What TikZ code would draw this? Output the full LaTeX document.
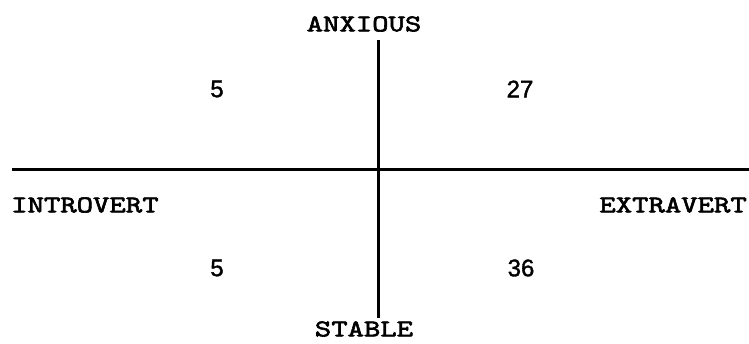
\documentclass[tikz,border=0pt]{standalone}
\usepackage{fontspec}
\newfontfamily\labfont[FakeStretch=1.3,FakeBold=2.5]{lmmono10-regular.otf}
\newfontfamily\numfont[FakeBold=1.5]{Liberation Sans}
\begin{document}
\begin{tikzpicture}[x=1pt,y=-1pt,
  axis/.style={line width=3pt,black},
  lab/.style={font=\labfont\fontsize{24}{24}\selectfont,inner sep=0pt},
  num/.style={font=\numfont\fontsize{24}{24}\selectfont,inner sep=0pt}]
\useasboundingbox (0,0) rectangle (749,344);
\coordinate (hl) at (12,170);
\coordinate (hr) at (749,170);
\coordinate (vt) at (378,40);
\coordinate (vb) at (378,318);
\draw[axis] (hl) -- (hr);
\draw[axis] (vt) -- (vb);
\node[lab] (anx) at (364,24) {ANXIOUS};
\node[lab] (sta) at (364,329) {STABLE};
\node[lab,anchor=west] (intro) at (11,205) {INTROVERT};
\node[lab,anchor=east] (extra) at (747,205) {EXTRAVERT};
\node[num] (q1) at (217,89) {5};
\node[num] (q2) at (520,89) {27};
\node[num] (q3) at (217,268) {5};
\node[num] (q4) at (521,268) {36};
\end{tikzpicture}
\end{document}
